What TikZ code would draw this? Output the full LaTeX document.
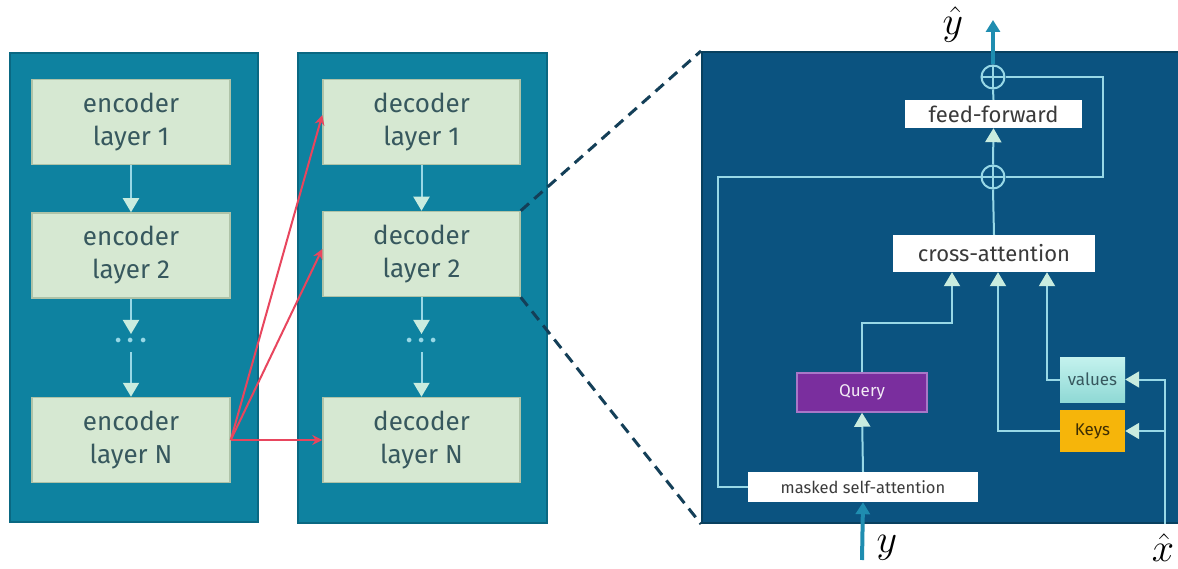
\documentclass[tikz,border=0pt]{standalone}
\usepackage{fix-cm}
\usepackage{fontspec}
\setmainfont{Fira Sans}
\usetikzlibrary{arrows.meta,calc}

\definecolor{panelteal}{HTML}{0E82A0}
\definecolor{panelteal-edge}{HTML}{0A6882}
\definecolor{panelnavy}{HTML}{0B5380}
\definecolor{panelnavy-edge}{HTML}{08405F}
\definecolor{layerfill}{HTML}{D6E8D2}
\definecolor{layeredge}{HTML}{AFC3A8}
\definecolor{layertext}{HTML}{37585E}
\definecolor{flowline}{HTML}{98D8E6}
\definecolor{flowtip}{HTML}{C9ECDF}
\definecolor{skipred}{HTML}{E8465E}
\definecolor{zoomdash}{HTML}{143F58}
\definecolor{ioteal}{HTML}{1F8DB0}
\definecolor{queryfill}{HTML}{7A2E9E}
\definecolor{queryedge}{HTML}{A877C8}
\definecolor{keysfill}{HTML}{F6B50A}
\definecolor{valtop}{HTML}{C4F2EE}
\definecolor{valbot}{HTML}{8FD9D5}
\definecolor{boxtext}{HTML}{3A3A3A}

\tikzset{
  panel/.style={draw=panelteal-edge, line width=2pt, fill=panelteal, inner sep=0pt},
  zoompanel/.style={draw=panelnavy-edge, line width=2pt, fill=panelnavy, inner sep=0pt},
  layerbox/.style={draw=layeredge, line width=1.5pt, fill=layerfill, inner sep=0pt,
    minimum width=198pt, minimum height=85pt, align=center, text=layertext,
    font=\fontsize{26}{33}\selectfont},
  flow/.style={draw=flowline, line width=2pt},
  flowarrow/.style={flow, -{Triangle[width=16pt,length=14pt,fill=flowtip,color=flowtip]}},
  skiparrow/.style={draw=skipred, line width=2pt, -{Stealth[width=10pt,length=10pt]}},
  zoomline/.style={draw=zoomdash, line width=3pt, dash pattern=on 11pt off 7pt},
  whitebox/.style={fill=white, inner sep=0pt, text=boxtext},
  smalllabel/.style={font=\fontsize{17}{17}\selectfont},
  sumnode/.style={circle, draw=flowline, line width=2pt, minimum size=23pt, inner sep=0pt,
    path picture={
      \draw[flowline, line width=2pt]
        (path picture bounding box.north) -- (path picture bounding box.south)
        (path picture bounding box.west) -- (path picture bounding box.east);}},
  ioarrow/.style={draw=ioteal, line width=4pt, -{Triangle[width=14pt,length=12pt]}},
  mathlabel/.style={font=\fontsize{40}{40}\selectfont, inner sep=0pt},
  dotsnode/.style={text=flowline, font=\fontsize{44}{44}\selectfont, inner sep=0pt}
}

\begin{document}
\begin{tikzpicture}[x=1pt, y=-1pt]
  \useasboundingbox[fill=white] (0,0) rectangle (1178,569);

  % ---------- encoder stack ----------
  \node[panel, minimum width=248pt, minimum height=469pt] (encpanel) at (134,287.5) {};
  \node[layerbox] (enc1) at (131,122) {encoder\\layer 1};
  \node[layerbox] (enc2) at (131,255.5) {encoder\\layer 2};
  \node[layerbox] (encN) at (131,440) {encoder\\layer N};
  \node[dotsnode] (edots) at (131,342) {${\cdot}{\cdot}{\cdot}$};
  \coordinate (eabove) at (131,334);
  \coordinate (ebelow) at (131,352);
  \draw[flowarrow] (enc1.south) -- (enc2.north);
  \draw[flowarrow] (enc2.south) -- (eabove);
  \draw[flowarrow] (ebelow) -- (encN.north);

  % ---------- decoder stack ----------
  \node[panel, minimum width=249pt, minimum height=470pt] (decpanel) at (422.5,288) {};
  \node[layerbox, minimum width=197pt] (dec1) at (421.5,122) {decoder\\layer 1};
  \node[layerbox, minimum width=197pt] (dec2) at (421.5,254) {decoder\\layer 2};
  \node[layerbox, minimum width=197pt] (decN) at (421.5,440) {decoder\\layer N};
  \node[dotsnode] (ddots) at (421.5,342) {${\cdot}{\cdot}{\cdot}$};
  \coordinate (dabove) at (421.5,334);
  \coordinate (dbelow) at (421.5,352);
  \draw[flowarrow] (dec1.south) -- (dec2.north);
  \draw[flowarrow] (dec2.south) -- (dabove);
  \draw[flowarrow] (dbelow) -- (decN.north);

  % encoder output feeds every decoder layer
  \draw[skiparrow] (encN.east) -- ($(dec1.west)+(0,-7)$);
  \draw[skiparrow] (encN.east) -- ($(dec2.west)+(0,-5)$);
  \draw[skiparrow] (encN.east) -- (decN.west);

  % ---------- expanded decoder layer ----------
  \node[zoompanel, minimum width=477pt, minimum height=471pt] (zpanel) at (940.5,287.5) {};
  \draw[zoomline] (dec2.north east) -- (zpanel.north west);
  \draw[zoomline] (dec2.south east) -- (zpanel.south west);

  \node[sumnode] (sumtop) at (993,77) {};
  \node[sumnode] (sumlow) at (993,177) {};
  \node[whitebox, minimum width=177pt, minimum height=28pt,
        font=\fontsize{22}{22}\selectfont] (ff) at (993.5,114) {feed-forward};
  \node[whitebox, minimum width=202pt, minimum height=37pt,
        font=\fontsize{22}{22}\selectfont] (ca) at (994,253.5) {cross-attention};
  \node[whitebox, minimum width=230pt, minimum height=30pt,
        font=\fontsize{16.5}{16.5}\selectfont] (msa) at (863,487) {masked self-attention};
  \node[fill=queryfill, draw=queryedge, line width=1.5pt, inner sep=0pt,
        minimum width=130pt, minimum height=39pt, text=white!90!queryfill,
        smalllabel] (query) at (862,392.5) {Query};
  \node[top color=valtop, bottom color=valbot, inner sep=0pt,
        minimum width=65pt, minimum height=45pt, text=layertext,
        smalllabel] (values) at (1092.5,379.5) {values};
  \node[fill=keysfill, inner sep=0pt,
        minimum width=65pt, minimum height=42pt, text=black!75!keysfill,
        smalllabel] (keys) at (1092.5,431) {Keys};

  % bend points of the internal wiring
  \coordinate (resleft) at (718,177);
  \coordinate (resright) at (1103,77);
  \coordinate (qbend) at (952,323);
  \coordinate (kcol) at (998,431);
  \coordinate (vcol) at (1047,379.5);
  \coordinate (xin) at (1165,524);
  \coordinate (out) at (993,20);
  \coordinate (yin) at (862,560);

  % residual paths
  \draw[flow] (msa.west) -| (resleft) -- (sumlow.west);
  \draw[flow] (sumlow.east) -| (resright) -- (sumtop.east);

  % main vertical flow
  \draw[flow] (ca.north) -- (sumlow.south);
  \draw[flowarrow] (sumlow.north) -- (ff.south);
  \draw[flow] (ff.north) -- (sumtop.south);
  \draw[flowarrow] (msa.north) -- (query.south);

  % query, keys and values into cross-attention
  \draw[flowarrow] (query.north) |- (qbend) -- (qbend |- ca.south);
  \draw[flowarrow] (keys.west) -- (kcol) -- (kcol |- ca.south);
  \draw[flowarrow] (values.west) -- (vcol) -- (vcol |- ca.south);

  % encoder output x-hat into keys and values
  \draw[flowarrow] (xin) |- (values.east);
  \draw[flowarrow] (xin |- keys.east) -- (keys.east);

  % inputs and output
  \draw[ioarrow] (sumtop.north) -- (out);
  \draw[ioarrow] (yin) -- (msa.south);
  \node[mathlabel] (yhat) at (953,25) {$\hat{y}$};
  \node[mathlabel] (ylab) at (887,548) {$y$};
  \node[mathlabel] (xhat) at (1163,548) {$\hat{x}$};
\end{tikzpicture}
\end{document}
